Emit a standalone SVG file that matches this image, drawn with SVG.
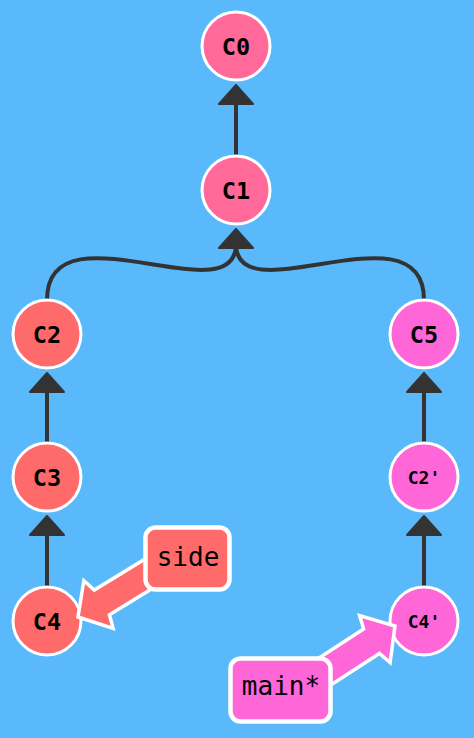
<svg xmlns="http://www.w3.org/2000/svg" width="474" height="738" viewBox="0 0 474 738">
<style>
.bg{fill:#59b9fa}
.node circle{stroke:#fff;stroke-width:3}
.pink{fill:#ff6a9b}
.red{fill:#ff6b6b}
.mag{fill:#ff66d8}
.lbl{font-family:"DejaVu Sans Mono",monospace;font-weight:bold;font-size:23.5px;text-anchor:middle;fill:#000}
.lbl.sm{font-size:18px}
.edge{stroke:#333;stroke-width:4;fill:none}
.head{fill:#333;stroke:#333;stroke-width:2;stroke-linejoin:round}
.barrow{stroke:#fff;stroke-width:3.5;stroke-linejoin:miter}
.box{stroke:#fff;stroke-width:4.5}
.btxt{font-family:"DejaVu Sans Mono",monospace;font-size:26px;text-anchor:middle;fill:#000}
</style>
<defs>
<polygon id="ah" points="0,0 -17,19 17,19"/>
<polygon id="barr" points="0,0 24,-28 28,-14.5 100,-14.5 100,14.5 28,14.5 24,28"/>
</defs>
<rect class="bg" x="0" y="0" width="474" height="738"/>
<g id="connectors">
<line class="edge" x1="236" y1="156" x2="236" y2="100"/>
<use href="#ah" class="head" x="236" y="85"/>
<path class="edge" d="M47,300 C47,202 236,317 236,244"/>
<path class="edge" d="M424,300 C424,202 236,317 236,244"/>
<use href="#ah" class="head" x="236" y="229"/>
<line class="edge" x1="47" y1="443" x2="47" y2="388"/>
<use href="#ah" class="head" x="47" y="373"/>
<line class="edge" x1="47" y1="587" x2="47" y2="531"/>
<use href="#ah" class="head" x="47" y="516"/>
<line class="edge" x1="424" y1="443" x2="424" y2="388"/>
<use href="#ah" class="head" x="424" y="373"/>
<line class="edge" x1="424" y1="587" x2="424" y2="531"/>
<use href="#ah" class="head" x="424" y="516"/>
</g>
<g id="C0" class="node"><circle class="pink" cx="236" cy="46" r="34"/><text class="lbl" x="236" y="54.5">C0</text></g>
<g id="C1" class="node"><circle class="pink" cx="236" cy="190" r="34"/><text class="lbl" x="236" y="198.5">C1</text></g>
<g id="C2" class="node"><circle class="red" cx="47" cy="334" r="34"/><text class="lbl" x="47" y="342.5">C2</text></g>
<g id="C3" class="node"><circle class="red" cx="47" cy="477" r="34"/><text class="lbl" x="47" y="485.5">C3</text></g>
<g id="C4" class="node"><circle class="red" cx="47" cy="621" r="34"/><text class="lbl" x="47" y="629.5">C4</text></g>
<g id="C5" class="node"><circle class="mag" cx="424" cy="334" r="34"/><text class="lbl" x="424" y="342.5">C5</text></g>
<g id="C2p" class="node"><circle class="mag" cx="424" cy="477" r="34"/><text class="lbl sm" x="424" y="484">C2'</text></g>
<g id="C4p" class="node"><circle class="mag" cx="424" cy="621" r="34"/><text class="lbl sm" x="424" y="628">C4'</text></g>
<g id="branch-side">
<use href="#barr" class="barrow red" transform="translate(78,617) rotate(-31.5)"/>
<rect class="box red" x="145.5" y="527.5" width="84" height="62" rx="10"/>
<text class="btxt" x="188" y="566">side</text>
</g>
<g id="branch-main">
<use href="#barr" class="barrow mag" transform="translate(395,626) rotate(147)"/>
<rect class="box mag" x="230.5" y="658.5" width="100" height="63" rx="10"/>
<text class="btxt" x="281" y="695">main*</text>
</g>
</svg>
